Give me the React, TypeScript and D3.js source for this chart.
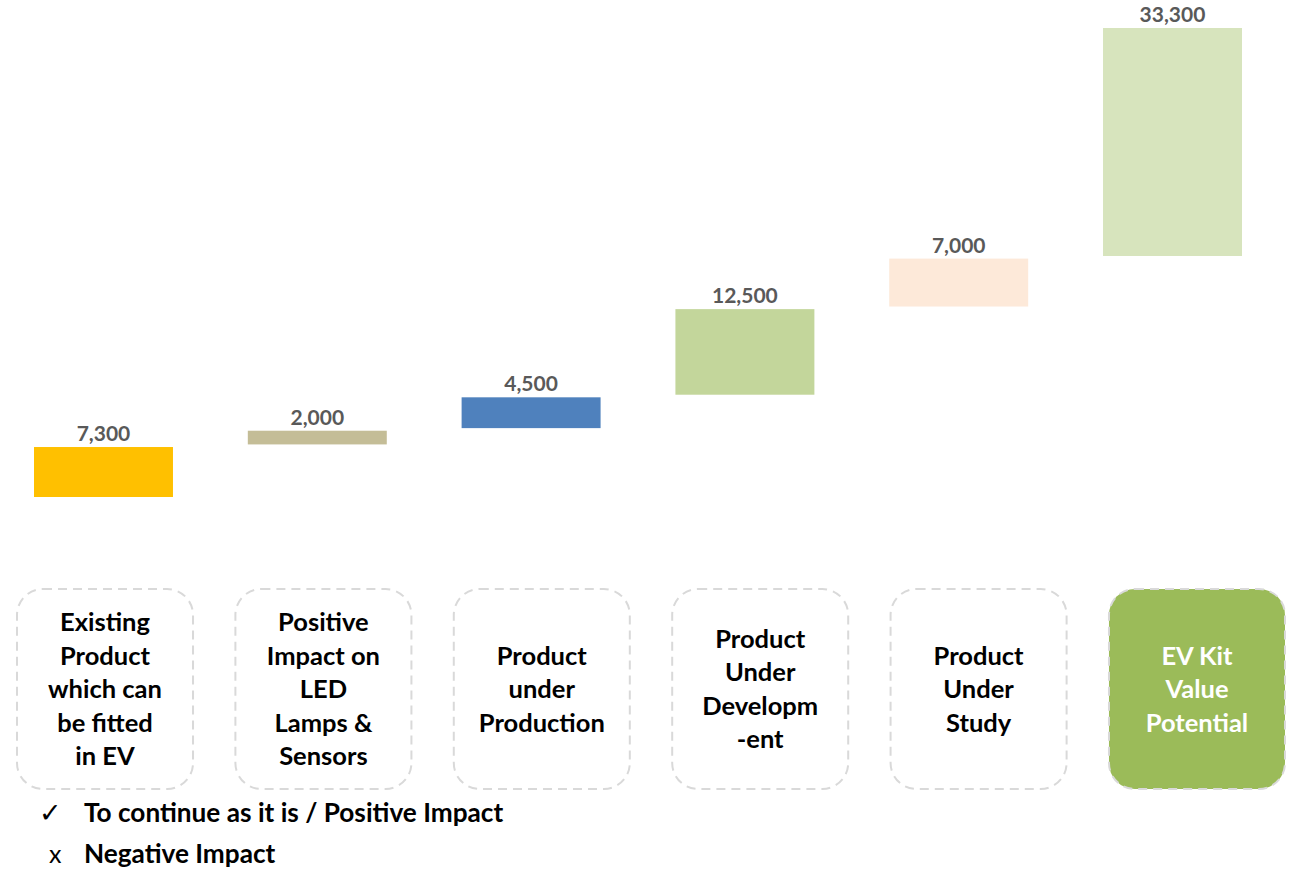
import React from "react";
import * as d3 from "d3";

const categories = [
  ["Existing", "Product", "which can", "be fitted", "in EV"],
  ["Positive", "Impact on", "LED", "Lamps &", "Sensors"],
  ["Product", "under", "Production"],
  ["Product", "Under", "Developm", "-ent"],
  ["Product", "Under", "Study"],
  ["EV Kit", "Value", "Potential"],
];
const values = [7300, 2000, 4500, 12500, 7000, 33300];
const barColors = ["#FFC000", "#C4BD97", "#4F81BD", "#C3D69B", "#FDE9D9", "#D7E4BD"];
const legendItems = [
  { mark: "\u2713", text: "To continue as it is / Positive Impact" },
  { mark: "x", text: "Negative Impact" },
];

const W = 1290;
const H = 869;
const FONT = "Lato, Carlito, Calibri, 'Open Sans', sans-serif";

export default function App() {
  const n = values.length;
  const gap = 2.6;
  // floating waterfall: each bar starts where the previous one ended
  const starts: number[] = [];
  let acc = 0;
  values.forEach((v) => {
    starts.push(acc);
    acc += v;
  });
  const idx = d3.range(n).map(String);
  const x = d3.scaleBand().domain(idx).range([34, 1242]).paddingInner(0.35).paddingOuter(0);
  const y = d3.scaleLinear().domain([0, acc]).range([497, 28 + (n - 1) * gap]);
  const xBox = d3.scaleBand().domain(idx).range([17, 1285]).paddingInner(0.194).paddingOuter(0);
  const boxTop = 589;
  const boxBottom = 789;
  const lineH = 33.5;
  const fmt = d3.format(",");

  return (
    <svg width={W} height={H} style={{ position: "absolute", left: 0, top: 0, background: "#fff" }}>
      {values.map((v, i) => {
        const y0 = y(starts[i]) - i * gap;
        const y1 = y(starts[i] + v) - i * gap;
        const bx = x(String(i))!;
        return (
          <g key={"b" + i}>
            <rect x={bx} y={y1} width={x.bandwidth()} height={y0 - y1} fill={barColors[i]} />
            <text
              x={bx + x.bandwidth() / 2}
              y={y1 - 6}
              textAnchor="middle"
              fontFamily={FONT}
              fontWeight={700}
              fontSize={21}
              fill="#595959"
            >
              {fmt(v)}
            </text>
          </g>
        );
      })}
      {categories.map((lines, i) => {
        const bx = xBox(String(i))!;
        const bw = xBox.bandwidth();
        const last = i === n - 1;
        const cy = (boxTop + boxBottom) / 2;
        return (
          <g key={"c" + i}>
            <rect
              x={bx}
              y={boxTop}
              width={bw}
              height={boxBottom - boxTop}
              rx={26}
              ry={26}
              fill={last ? "#9BBB59" : "#fff"}
              stroke="#D9D9D9"
              strokeWidth={2}
              strokeDasharray="9 6"
            />
            {lines.map((t, j) => (
              <text
                key={j}
                x={bx + bw / 2}
                y={cy + (j - (lines.length - 1) / 2) * lineH + 9}
                textAnchor="middle"
                fontFamily={FONT}
                fontWeight={700}
                fontSize={25.5}
                fill={last ? "#fff" : "#000"}
              >
                {t}
              </text>
            ))}
          </g>
        );
      })}
      {legendItems.map((it, i) => (
        <g key={"l" + i}>
          <text
            x={i === 0 ? 39 : 49}
            y={822 + i * 41}
            fontFamily={i === 0 ? "'DejaVu Sans', sans-serif" : FONT}
            fontSize={i === 0 ? 27 : 25}
            fill="#000"
          >
            {it.mark}
          </text>
          <text x={84} y={822 + i * 41} fontFamily={FONT} fontWeight={700} fontSize={26.2} fill="#000">
            {it.text}
          </text>
        </g>
      ))}
    </svg>
  );
}
